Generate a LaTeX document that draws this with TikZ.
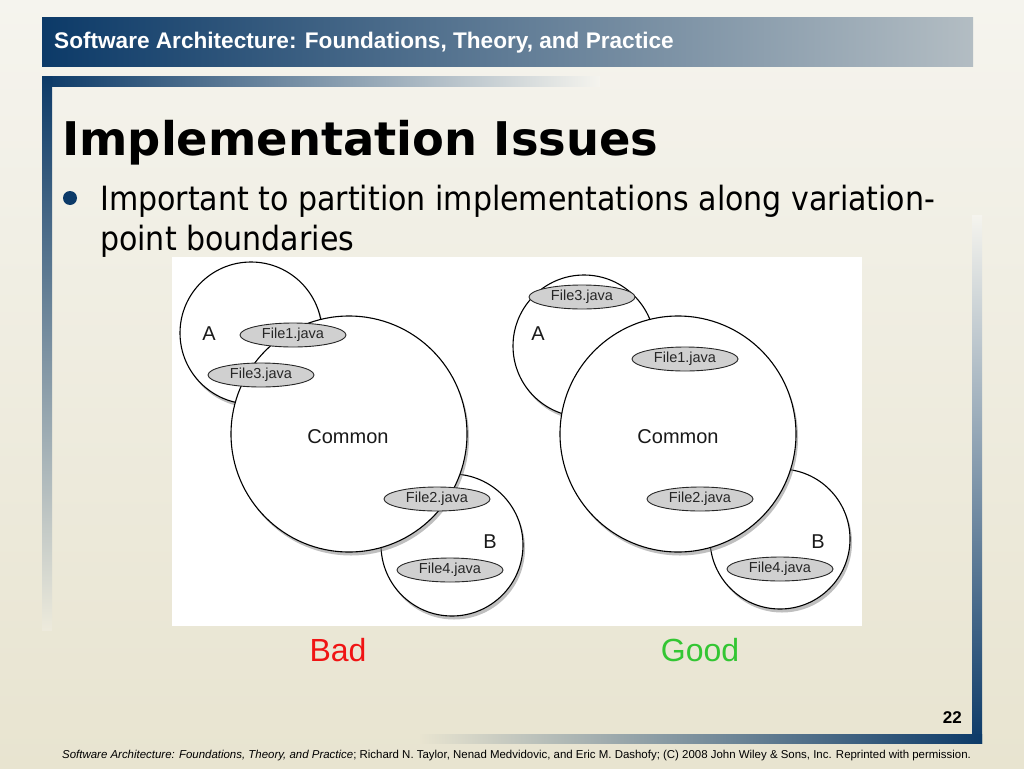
\documentclass[tikz,border=0pt]{standalone}
\usepackage{fontspec}
\setmainfont{Liberation Sans}
\newfontfamily\titlefont{DejaVu Sans}
\newfontfamily\bodyfont{DejaVu Sans Condensed}
\usetikzlibrary{shadows,shapes.geometric}
\definecolor{navy}{HTML}{0C3A68}
\definecolor{bgtop}{HTML}{F5F4EE}
\definecolor{bgbot}{HTML}{E8E4D0}
\definecolor{bannerR}{HTML}{B3BDC3}
\definecolor{filegray}{HTML}{D0D0D0}
\definecolor{badred}{HTML}{F01414}
\definecolor{goodgreen}{HTML}{33C633}
\tikzset{
  circ/.style={circle, draw=black, fill=white, line width=1.1pt, inner sep=0pt,
    drop shadow={shadow xshift=2pt, shadow yshift=-3.5pt, opacity=0.5}},
  filenode/.style={ellipse, draw=black!85, fill=filegray, line width=0.9pt, inner sep=0pt,
    minimum width=106pt, minimum height=24pt, font=\fontsize{14.5}{15}\selectfont, text=black!85},
  setlabel/.style={font=\fontsize{20}{20}\selectfont, text=black!90},
}
\begin{document}
\begin{tikzpicture}[x=1pt,y=-1pt]
\useasboundingbox (0,0) rectangle (1024,768);
% background
\shade[top color=bgtop, bottom color=bgbot] (0,0) rectangle (1024,768);
% banner
\shade[left color=navy, right color=bannerR] (42,18) rectangle (973,66);
\node[anchor=west, text=white, font=\bfseries\fontsize{22.6}{23}\selectfont, inner sep=0pt] (banner) at (54,43) {Software Architecture: Foundations, Theory, and Practice};
% frame bars
\shade[left color=navy, right color=bgtop] (42,76) rectangle (600,86);
\shade[top color=navy, bottom color=bgbot!60!bgtop] (42,76) rectangle (52,630);
\shade[top color=bgtop, bottom color=navy] (972,215) rectangle (982,743);
\shade[left color=bgbot, right color=navy] (420,734) rectangle (982,743);
% title
\node[anchor=base west, inner sep=0pt, font=\titlefont\bfseries\fontsize{46.4}{47}\selectfont] (title) at (62,155) {Implementation Issues};
% bullet
\node[circle, fill=navy, minimum size=14pt, inner sep=0pt] (bullet) at (70,198) {};
% picture background
\fill[white] (172,257) rectangle (862,626);
\node[anchor=base west, inner sep=0pt, font=\bodyfont\fontsize{33.4}{34}\selectfont] (line1) at (100,210) {Important to partition implementations along variation-};
\node[anchor=base west, inner sep=0pt, font=\bodyfont\fontsize{33.4}{34}\selectfont] (line2) at (100,250) {point boundaries};
% ---- Bad diagram
\node[circ, minimum size=142pt] (badA) at (251,333) {};
\node[circ, minimum size=142pt] (badB) at (452,545) {};
\node[circ, minimum size=236pt] (badC) at (349,434) {};
\node[setlabel] (badAl) at (209,334) {A};
\node[setlabel] (badBl) at (490,542) {B};
\node[setlabel] (badCl) at (348,437) {Common};
\node[filenode] (badF1) at (293,335) {File1.java};
\node[filenode] (badF3) at (261,375) {File3.java};
\node[filenode] (badF2) at (437,499) {File2.java};
\node[filenode] (badF4) at (450,570) {File4.java};
% ---- Good diagram
\node[circ, minimum size=142pt] (goodA) at (584,346) {};
\node[circ, minimum size=140pt] (goodB) at (780,539) {};
\node[circ, minimum size=236pt] (goodC) at (678,434) {};
\node[setlabel] (goodAl) at (538,334) {A};
\node[setlabel] (goodBl) at (818,542) {B};
\node[setlabel] (goodCl) at (678,437) {Common};
\node[filenode] (goodF3) at (582,297) {File3.java};
\node[filenode] (goodF1) at (685,359) {File1.java};
\node[filenode] (goodF2) at (700,499) {File2.java};
\node[filenode] (goodF4) at (780,569) {File4.java};
% captions
\node[text=badred, font=\fontsize{32}{32}\selectfont] (bad) at (338,650) {Bad};
\node[text=goodgreen, font=\fontsize{32}{32}\selectfont] (good) at (700,650) {Good};
% page number
\node[anchor=east, inner sep=0pt, font=\bfseries\fontsize{17}{17}\selectfont] (page) at (962,718) {22};
% footer
\node[anchor=west, inner sep=0pt, font=\fontsize{11.45}{12}\selectfont] (footer) at (62,756) {\textit{Software Architecture: Foundations, Theory, and Practice}; Richard N. Taylor, Nenad Medvidovic, and Eric M. Dashofy; (C) 2008 John Wiley \& Sons, Inc. Reprinted with permission.};
\end{tikzpicture}
\end{document}
